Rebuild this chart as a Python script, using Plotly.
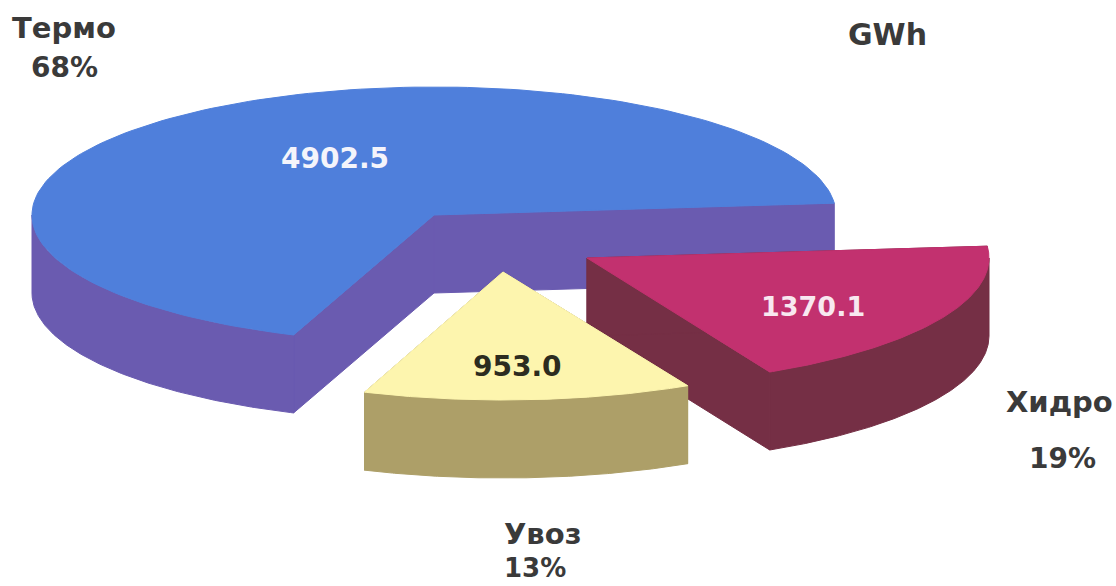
import numpy as np
import plotly.graph_objects as go

# ---- data ----
categories = ["Термо", "Хидро", "Увоз"]
values = [4902.5, 1370.1, 953.0]
percent_labels = ["68%", "19%", "13%"]
unit_label = "GWh"

# ---- styling / geometry of the drawing ----
top_colors = ["#4f7fdb", "#c2316f", "#fdf5ae"]
side_colors = ["#6a5bb0", "#752f45", "#ad9f68"]
value_colors = ["#f4f4fb", "#f8e8f0", "#2c2c20"]
apex = [(434, 215), (587, 258), (503, 272)]   # pixel location of each slice apex
angle_nudge = [0, 0, 0.3]                     # degrees
RX, RY, DEPTH = 402, 128, 78
START_ANGLE = 5.3
FONT = "DejaVu Sans"
value_pos = [(335, 158), (813, 306), (517, 366)]
name_pos = [(64, 28), (1059, 402), (542, 534)]
pct_pos = [(64, 67), (1062, 458), (535, 568)]
unit_pos = (887, 34)
value_size = [28, 27, 28]
name_size = 29
pct_size = [28, 28, 26]
unit_size = 30
label_color = "#3a3a3a"

total = sum(values)
sweeps = [v / total * 360 for v in values]


def arc(cx, cy, a0, a1, dy=0, n=160):
    t = np.radians(np.linspace(a0, a1, n))
    return list(cx + RX * np.cos(t)), list(cy - RY * np.sin(t) + dy)


def wall_polys(cx, cy, a0, a1):
    polys = []
    for a in (a0, a1):
        ex, ey = arc(cx, cy, a, a, n=1)
        polys.append(([cx, ex[0], ex[0], cx, cx],
                      [cy, ey[0], ey[0] + DEPTH, cy + DEPTH, cy]))
    lo, hi = min(a0, a1), max(a0, a1)
    for k in (-1, 0, 1):
        f0, f1 = max(lo, 180 + 360 * k), min(hi, 360 + 360 * k)
        if f1 > f0:
            tx, ty = arc(cx, cy, f0, f1)
            bx, by = arc(cx, cy, f1, f0, dy=DEPTH)
            polys.append((tx + bx + [tx[0]], ty + by + [ty[0]]))
    return polys


fig = go.Figure()

spans = [(START_ANGLE, START_ANGLE + sweeps[0])]
b = START_ANGLE
for s in sweeps[1:]:
    spans.append((b - s, b))
    b -= s

for i, cat in enumerate(categories):
    a0, a1 = spans[i]
    a0 += angle_nudge[i]
    a1 += angle_nudge[i]
    cx, cy = apex[i]
    for wx, wy in wall_polys(cx, cy, a0, a1):
        fig.add_trace(go.Scatter(x=wx, y=wy, mode="lines", fill="toself",
                                 fillcolor=side_colors[i],
                                 line=dict(color=side_colors[i], width=1),
                                 hoverinfo="skip", showlegend=False))
    tx, ty = arc(cx, cy, a0, a1)
    fig.add_trace(go.Scatter(x=[cx] + tx + [cx], y=[cy] + ty + [cy],
                             mode="lines", fill="toself",
                             fillcolor=top_colors[i],
                             line=dict(color=top_colors[i], width=1),
                             name=cat, hoverinfo="name", showlegend=False))

notes = []
def note(text, pos, size, color):
    notes.append(dict(text=text, x=pos[0], y=pos[1], xref="x", yref="y", showarrow=False,
                      xanchor="center", yanchor="middle",
                      font=dict(family=FONT, size=size, color=color, weight="bold")))

for i, cat in enumerate(categories):
    note(f"{values[i]:.1f}", value_pos[i], value_size[i], value_colors[i])
    note(cat, name_pos[i], name_size, label_color)
    note(percent_labels[i], pct_pos[i], pct_size[i], label_color)
note(unit_label, unit_pos, unit_size, label_color)

fig.update_layout(
    width=1116, height=586, autosize=False,
    margin=dict(l=0, r=0, t=0, b=0),
    paper_bgcolor="white", plot_bgcolor="white",
    showlegend=False, annotations=notes,
    xaxis=dict(range=[0, 1116], visible=False, fixedrange=True),
    yaxis=dict(range=[586, 0], visible=False, fixedrange=True),
)
fig.write_html("out.html", config={"displayModeBar": False},
               post_script="document.body.style.margin='0';")
